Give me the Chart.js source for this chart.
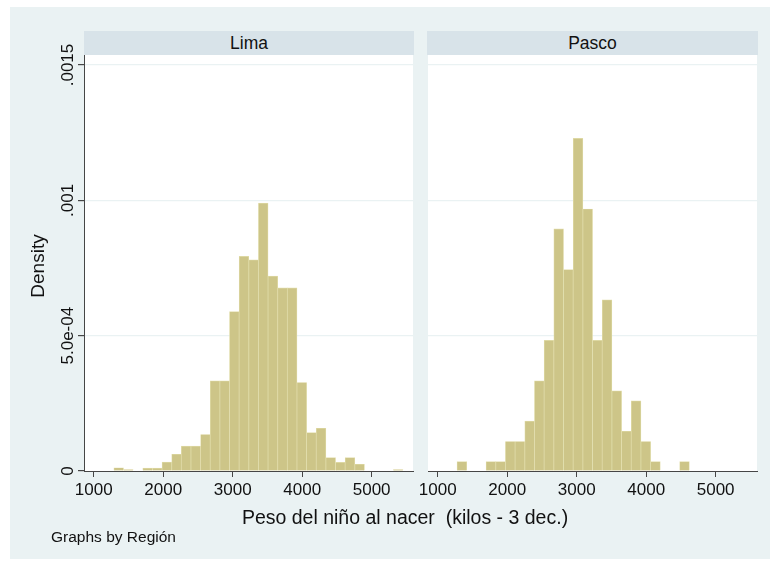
<!DOCTYPE html>
<html>
<head>
<meta charset="utf-8">
<script src="https://cdn.jsdelivr.net/npm/chart.js@4.4.0/dist/chart.umd.min.js"></script>
<style>
  body { margin: 0; background: #fff; font-family: 'Liberation Sans', Arial, sans-serif; }
  #wrap { position: relative; width: 770px; height: 561px; overflow: hidden; }
  #bg { position: absolute; left: 10px; top: 7px; width: 760px; height: 552px; background: rgb(234,242,243); }
  .strip { position: absolute; top: 31px; height: 24px; background: rgb(216,227,233);
           color: #111; font-size: 17.5px; line-height: 24px; text-align: center; }
  canvas { position: absolute; left: 0; top: 0; }
  .txt { position: absolute; color: #111; white-space: pre; }
</style>
</head>
<body>
<div id="wrap">
  <div id="bg"></div>
  <div class="strip" style="left:84px; width:330px;">Lima</div>
  <div class="strip" style="left:427px; width:331px;">Pasco</div>
  <canvas id="lima" width="770" height="561"></canvas>
  <canvas id="pasco" width="770" height="561"></canvas>
  <div class="txt" style="left:0; width:76px; top:266px; height:0; font-size:19px;">
    <div style="position:absolute; left:38px; top:0; transform: translate(-50%,-50%) rotate(-90deg);">Density</div>
  </div>
  <div class="txt" style="left:105px; width:600px; top:506px; text-align:center; font-size:19.5px;">Peso del niño al nacer  (kilos - 3 dec.)</div>
  <div class="txt" style="left:51px; top:528px; font-size:15.5px;">Graphs by Región</div>
</div>

<script>
// histogram bins (Stata default), densities
var limaBinStart = 1290;
var limaBinWidth = 138.7;
var limaDensity = [1.2e-5, 0.5e-5, 0, 1.1e-5, 1.1e-5, 3.3e-5, 6.2e-5, 9.2e-5, 9.2e-5, 1.35e-4,
                   3.33e-4, 3.33e-4, 5.89e-4, 7.93e-4, 7.8e-4, 9.9e-4, 7.2e-4, 6.77e-4, 6.77e-4, 3.27e-4,
                   1.42e-4, 1.58e-4, 4.95e-5, 3.2e-5, 4.95e-5, 2.5e-5, 0, 0, 0, 0.5e-5];

var pascoBinStart = 1278;
var pascoBinWidth = 139.3;
var pascoDensity = [3.5e-5, 0, 0, 3.5e-5, 3.5e-5, 1.09e-4, 1.09e-4, 1.84e-4, 3.33e-4, 4.83e-4,
                    8.95e-4, 7.44e-4, 1.229e-3, 9.68e-4, 4.83e-4, 6.32e-4, 2.96e-4, 1.47e-4, 2.59e-4, 1.09e-4,
                    3.5e-5, 0, 0, 3.5e-5];

var xTicks = [1000, 2000, 3000, 4000, 5000];
var yTicks = [0, 0.0005, 0.001, 0.0015];
var yTickLabels = ['0', '5.0e-04', '.001', '.0015'];

var axisColor = 'rgb(70,70,70)';
var gridColor = 'rgb(234,242,243)';
var barFill = 'rgb(205,197,136)';
var barEdge = 'rgb(226,222,172)';

function binPoints(start, width, dens) {
    return dens.map(function (d, i) {
        return { x: start + (i + 0.5) * width, y: d === 0 ? null : d };
    });
}

// white plot region + rotated y tick labels (Stata style)
var plotBg = {
    id: 'plotBg',
    beforeDraw: function (chart) {
        var a = chart.chartArea, c = chart.ctx;
        c.save();
        c.fillStyle = '#fff';
        c.fillRect(a.left, a.top, a.right - a.left, a.bottom - a.top);
        c.restore();
    },
    afterDraw: function (chart) {
        if (!chart.options.plugins.plotBg.yLabels) return;
        var s = chart.scales.y, c = chart.ctx;
        c.save();
        c.fillStyle = '#111';
        c.font = '17px "Liberation Sans", Arial, sans-serif';
        c.textAlign = 'center';
        c.textBaseline = 'alphabetic';
        s.ticks.forEach(function (t) {
            var i = yTicks.indexOf(t.value);
            if (i < 0) return;
            c.save();
            c.translate(73, s.getPixelForValue(t.value));
            c.rotate(-Math.PI / 2);
            c.fillText(yTickLabels[i], 0, 0);
            c.restore();
        });
        c.restore();
    }
};

function makePanel(id, start, width, dens, showY, padLeftW, padRight) {
    var ctx = document.getElementById(id).getContext('2d');
    return new Chart(ctx, {
        type: 'bar',
        data: {
            datasets: [{
                data: binPoints(start, width, dens),
                backgroundColor: barFill,
                borderColor: barEdge,
                borderWidth: 0.7,
                borderSkipped: 'start',
                barPercentage: 1,
                categoryPercentage: 1
            }]
        },
        options: {
            responsive: false,
            animation: false,
            layout: { padding: { left: 0, right: padRight, top: 55, bottom: 50 } },
            plugins: {
                legend: { display: false },
                tooltip: { enabled: false },
                plotBg: { yLabels: showY }
            },
            scales: {
                x: {
                    type: 'linear',
                    min: 860,
                    max: 5595,
                    offset: false,
                    afterBuildTicks: function (s) {
                        s.ticks = xTicks.map(function (v) { return { value: v }; });
                    },
                    afterFit: function (s) { s.height = 40; },
                    border: { display: true, color: axisColor, width: 1 },
                    grid: { offset: false, drawOnChartArea: false, drawTicks: true, tickLength: 6, tickColor: axisColor },
                    ticks: {
                        color: '#111',
                        font: { family: '"Liberation Sans", Arial, sans-serif', size: 17 },
                        padding: 3,
                        maxRotation: 0,
                        autoSkip: false,
                        callback: function (v) { return String(v); }
                    }
                },
                y: {
                    min: 0,
                    max: 0.001537,
                    afterBuildTicks: function (s) {
                        s.ticks = yTicks.map(function (v) { return { value: v }; });
                    },
                    afterFit: function (s) { s.width = padLeftW; },
                    border: { display: showY, color: axisColor, width: 1 },
                    grid: {
                        color: function (c) { return c.tick && c.tick.value === 0 ? 'rgba(0,0,0,0)' : gridColor; },
                        lineWidth: 1.2,
                        drawTicks: showY,
                        tickLength: 6,
                        tickColor: axisColor
                    },
                    ticks: { display: false }
                }
            }
        },
        plugins: [plotBg]
    });
}

makePanel('lima', limaBinStart, limaBinWidth, limaDensity, true, 84, 357);
makePanel('pasco', pascoBinStart, pascoBinWidth, pascoDensity, false, 428, 13);
</script>
</body>
</html>
